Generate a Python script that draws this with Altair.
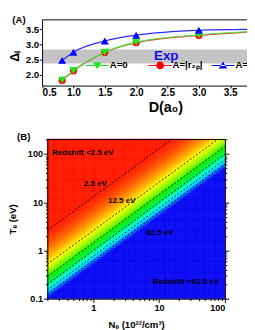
import altair as alt
import numpy as np
import pandas as pd

FONT = "Liberation Sans"

# ---------------- Panel (A) data ----------------
D_points = [0.82, 1.0, 1.5, 2.0, 3.0]
delta_A0 = [1.83, 2.15, 2.75, 3.08, 3.32]
delta_Ar2p = [1.82, 2.13, 2.74, 3.06, 3.30]
delta_A3 = [2.48, 2.75, 3.12, 3.31, 3.47]
# value of each curve where it leaves the picture on the right
D_curve_end = 3.85
curve_end = [3.43, 3.42, 3.50]
series_names = ["A=0", "A=|r₂ₚ|", "A="]
D_range = [0.5, 4.0]
delta_range = [1.65, 3.83]
exp_band = [2.38, 2.84]
exp_label_D = [2.48]
exp_label_delta = [2.61]

# ---------------- Panel (B) data ----------------
redshift_per_ratio = 32.5          # eV per (10^22 cm^-3 / eV)
contour_levels = [2.5, 12.5, 22.5, 32.5, 42.5, 52.5]
color_levels = [2.5, 7.0, 12.5, 25.0, 42.5, 52.5, 62.5]
color_values = ["#ff1a00", "#ff8a00", "#ffff00", "#00f000", "#00ffff", "#0a8cff", "#0a0af5"]
annot_text = ["Redshift <2.5 eV", "2.5 eV", "12.5 eV", "62.5 eV", "Redshift >62.5 eV"]
annot_N = [0.69, 1.07, 2.7, 10.2, 25.5]
annot_T = [105, 23.3, 10.5, 2.33, 0.219]
N_domain = [0.2, 100]
T_domain = [0.1, 205]

# ---------------- layout (pixels, one view) ----------------
PAD_L, PAD_T = 41, 5
W = 185            # panel B frame width
H = 291            # top of panel A frame -> bottom of panel B frame
A_h = 69           # panel A frame height
B_top = 124.7      # panel B frame top
SVG_W, SVG_H = 249, 327

# ---------------- build tables ----------------
point_rows, line_rows = [], []
for name, vals, end in zip(series_names, [delta_A0, delta_Ar2p, delta_A3], curve_end):
    for d, v in zip(D_points, vals):
        point_rows.append({"series": name, "D": d, "delta": v})
        line_rows.append({"series": name, "D": d, "delta": v})
    line_rows.append({"series": name, "D": D_curve_end, "delta": end})
pts = pd.DataFrame(point_rows)
lns = pd.DataFrame(line_rows)

point_colors = {"A=0": "#1ee81e", "A=|r₂ₚ|": "#ff0000", "A=": "#0000ff"}
line_colors = {"A=0": "#3cf03c", "A=|r₂ₚ|": "#ff2a2a", "A=": "#2a2aff"}
point_shapes = {"A=0": "triangle-down", "A=|r₂ₚ|": "circle", "A=": "triangle-up"}
point_sizes = {"A=0": 70, "A=|r₂ₚ|": 55, "A=": 70}
legend_paths = [
    "M-1,-0.04H1V0.04H-1ZM-0.36,-0.27H0.36L0,0.34Z",
    "M-1,-0.04H1V0.04H-1ZM0.34,0A0.34,0.34,0,1,1,-0.34,0A0.34,0.34,0,1,1,0.34,0Z",
    "M-1,-0.04H1V0.04H-1ZM-0.36,0.27H0.36L0,-0.34Z",
]

xA = alt.Scale(domain=D_range, range=[-5.5, 223.2], nice=False, zero=False)
yA = alt.Scale(domain=delta_range, range=[A_h, 0], nice=False, zero=False)
xB = alt.Scale(type="log", domain=N_domain, range=[0, W], nice=False)
yB = alt.Scale(type="log", domain=T_domain, range=[H, B_top], nice=False)

NOAX = None

# ---- panel A ----
band_df = pd.DataFrame({"D0": [D_range[0]], "D1": [D_range[1]],
                        "lo": [exp_band[0]], "hi": [exp_band[1]]})
band = alt.Chart(band_df).mark_rect(color="#c4c4c4").encode(
    x=alt.X("D0:Q", scale=xA, axis=alt.Axis(
        orient="top", labels=False, ticks=False, domainColor="black", domainWidth=1, zindex=1,
        title="(A)", titleX=-37, titleY=5.5, titleAlign="left", titleBaseline="bottom",
        titleAngle=0, titleFontSize=10)),
    x2="D1:Q",
    y=alt.Y("lo:Q", scale=yA, axis=NOAX), y2="hi:Q",
)
exp_df = pd.DataFrame({"D": exp_label_D, "delta": exp_label_delta, "t": ["Exp"]})
exp_text = alt.Chart(exp_df).mark_text(
    font=FONT, fontWeight="bold", fontSize=14, color="#1010e8"
).encode(
    x=alt.X("D:Q", scale=xA, axis=NOAX),
    y=alt.Y("delta:Q", scale=yA, axis=NOAX),
    text="t:N",
)

layers = [band, exp_text]
order = ["A=|r₂ₚ|", "A=0", "A="]
for k, name in enumerate(order):
    if k == 0:
        xax = alt.Axis(orient="bottom", offset=-(H - A_h), values=[0.5, 1.0, 1.5, 2.0, 2.5, 3.0, 3.5],
                       format=".1f", title="D(a₀)", titleFontSize=15, titleX=123, titleY=15,
                       titleBaseline="top", labelFontSize=10.5, tickSize=2.5, labelPadding=0,
                       zindex=1)
        yax = alt.Axis(orient="left", offset=5.5, values=[2.0, 2.5, 3.0, 3.5], format=".1f",
                       title="Δₗ", titleFontSize=13, titleX=-21.5, titleY=38, labelFontSize=10,
                       tickSize=3, labelPadding=0.5, zindex=1)
    else:
        xax = NOAX
        yax = NOAX
    ln = alt.Chart(lns[lns.series == name]).mark_line(
        interpolate="monotone", strokeWidth=1.2, color=line_colors[name]
    ).encode(x=alt.X("D:Q", scale=xA, axis=xax), y=alt.Y("delta:Q", scale=yA, axis=yax))
    pt = alt.Chart(pts[pts.series == name]).mark_point(
        filled=True, opacity=1, shape=point_shapes[name], size=point_sizes[name],
        color=point_colors[name]
    ).encode(x=alt.X("D:Q", scale=xA, axis=NOAX), y=alt.Y("delta:Q", scale=yA, axis=NOAX))
    layers += [ln, pt]

leg = alt.Legend(orient="none", legendX=40, legendY=36, direction="horizontal", title=None,
                 symbolSize=576, symbolStrokeWidth=0, labelFont=FONT, labelFontSize=10,
                 labelFontWeight="bold", labelOffset=1, columnPadding=9.5, gridAlign="all",
                 padding=0, labelColor="black")
legend_layer = alt.Chart(pd.DataFrame({"series": series_names})).mark_point(
    filled=True, opacity=1
).encode(
    color=alt.Color("series:N", scale=alt.Scale(domain=series_names,
                                                 range=[point_colors[s] for s in series_names]),
                    legend=leg),
    shape=alt.Shape("series:N", scale=alt.Scale(domain=series_names, range=legend_paths),
                    legend=leg),
).transform_filter("false")
layers.append(legend_layer)

# ---- panel B ----
nx, ny = 80, 72
Ne = np.logspace(np.log10(N_domain[0]), np.log10(N_domain[1]), nx + 1)
Te = np.logspace(np.log10(T_domain[0]), np.log10(T_domain[1]), ny + 1)
cells = []
for i in range(nx):
    for j in range(ny):
        nc = np.sqrt(Ne[i] * Ne[i + 1])
        tc = np.sqrt(Te[j] * Te[j + 1])
        cells.append({"N": Ne[i], "N2": Ne[i + 1], "T": Te[j], "T2": Te[j + 1],
                      "R": redshift_per_ratio * nc / tc})
grid = pd.DataFrame(cells)

cscale = alt.Scale(domain=color_levels, range=color_values, clamp=True, interpolate="rgb")
major = "abs(log(datum.value)/LN10 - round(log(datum.value)/LN10)) < 0.001"
x_vals = [0.2, 0.3, 0.4, 0.5, 0.6, 0.7, 0.8, 0.9] + list(range(1, 10)) + list(range(10, 100, 10)) + [100]
y_vals = [0.1, 0.2, 0.3, 0.4, 0.5, 0.6, 0.7, 0.8, 0.9] + list(range(1, 10)) + list(range(10, 100, 10)) + [100, 200]
tick_cond = {"condition": {"test": major, "value": 4}, "value": 2}

heat = alt.Chart(grid).mark_rect(strokeWidth=0.6).encode(
    x=alt.X("N:Q", scale=xB, axis=alt.Axis(
        orient="bottom", values=x_vals, format="~g", labelExpr=f"({major}) ? datum.label : ''",
        labelOverlap=False, tickSize=tick_cond, labelFontSize=9.5, labelPadding=0, zindex=1,
        title="Nₑ (10²²/cm³)", titleFontSize=10, titleY=22, titleBaseline="top")),
    x2="N2:Q",
    y=alt.Y("T:Q", scale=yB, axis=alt.Axis(
        orient="left", values=y_vals, format="~g", labelExpr=f"({major}) ? datum.label : ''",
        labelOverlap=False, tickSize=tick_cond, labelFontSize=9.5, labelPadding=1, zindex=1,
        title="Tₑ (eV)", titleFontSize=10, titleX=-31)),
    y2="T2:Q",
    color=alt.Color("R:Q", scale=cscale, legend=None),
    stroke=alt.Stroke("R:Q", scale=cscale, legend=None),
)

# dashed contour lines, kept inside the frame
crow = []
for lv in contour_levels:
    n0 = max(N_domain[0], lv * T_domain[0] / redshift_per_ratio)
    n1 = min(N_domain[1], lv * T_domain[1] / redshift_per_ratio)
    for n in (n0, n1):
        crow.append({"level": lv, "N": n, "T": redshift_per_ratio * n / lv})
cont = alt.Chart(pd.DataFrame(crow)).mark_line(
    color="black", strokeWidth=0.9, strokeDash=[2, 2]
).encode(
    x=alt.X("N:Q", scale=xB, axis=NOAX),
    y=alt.Y("T:Q", scale=yB, axis=NOAX),
    detail="level:N",
)

ann = alt.Chart(pd.DataFrame({"N": annot_N, "T": annot_T, "t": annot_text})).mark_text(
    font=FONT, fontWeight="bold", fontSize=8.3, color="black"
).encode(
    x=alt.X("N:Q", scale=xB, axis=alt.Axis(
        orient="top", offset=-B_top, labels=False, ticks=False, domainColor="black", zindex=1,
        title="(B)", titleX=-32, titleY=2.5, titleAlign="left", titleBaseline="bottom",
        titleAngle=0, titleFontSize=10)),
    y=alt.Y("T:Q", scale=yB, axis=alt.Axis(
        orient="right", values=y_vals, labels=False, tickSize=tick_cond, title=None, zindex=1)),
    text="t:N",
)

layers += [heat, cont, ann]

chart = alt.layer(*layers).resolve_scale(
    x="independent", y="independent", color="independent", shape="independent",
    stroke="independent"
).resolve_axis(x="independent", y="independent").properties(
    width=W, height=H,
    autosize=alt.AutoSizeParams(type="none"),
    padding={"left": PAD_L, "top": PAD_T, "right": SVG_W - PAD_L - W, "bottom": SVG_H - PAD_T - H},
).configure_axis(
    labelFont=FONT, titleFont=FONT, labelFontWeight="bold", titleFontWeight="bold",
    labelColor="black", titleColor="black", tickColor="black", domainColor="black",
    grid=False,
).configure_view(stroke=None)

chart.save("out.html", embed_options={"renderer": "svg", "actions": False})
